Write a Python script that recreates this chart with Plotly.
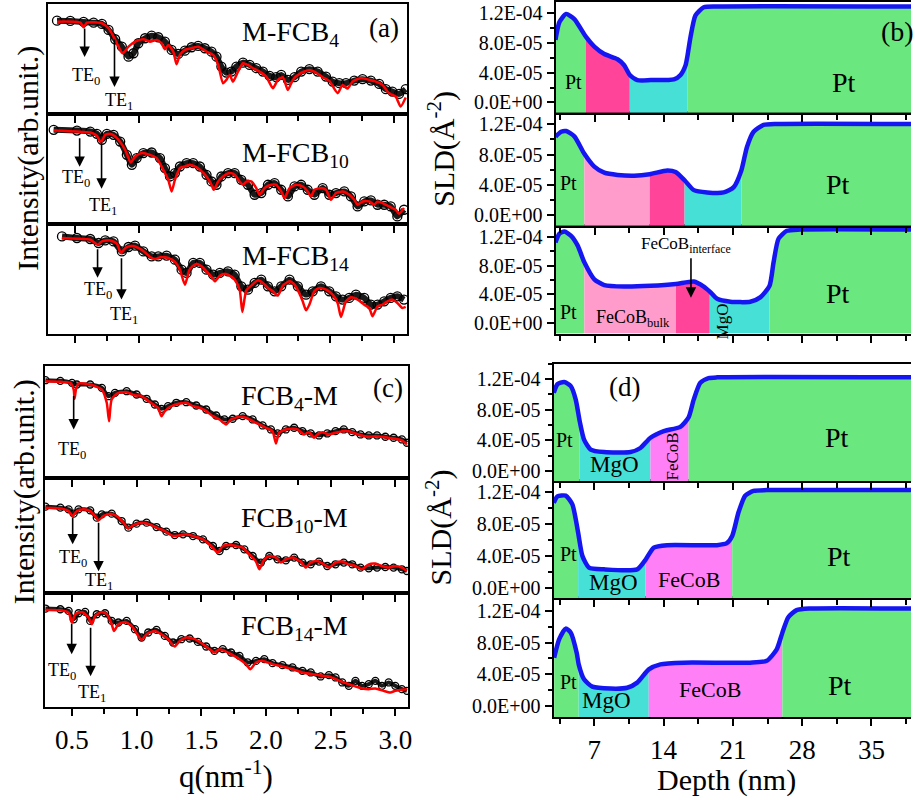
import plotly.graph_objects as go

FONT = "Liberation Serif, Times New Roman, serif"
W, H = 915, 800

# ---------------- reflectivity data (q in nm^-1, intensity in arb. log units) ----------------
# (a) M-FCB4
q_a1_fit = [0.362,0.544,0.570,0.596,0.713,0.765,0.804,0.843,0.874,0.921,0.972,1.037,1.089,1.141,1.180,1.206,1.232,1.271,1.297,1.323,1.362,1.414,1.466,1.531,1.583,1.622,1.660,1.686,1.712,1.738,1.777,1.816,1.855,1.894,1.946,1.998,2.050,2.089,2.128,2.167,2.206,2.258,2.335,2.387,2.439,2.491,2.556,2.595,2.634,2.673,2.738,2.803,2.855,2.907,2.946,2.971,3.010,3.049,3.088]
I_a1_fit = [92.3,91.3,86.7,91.3,90.7,85.7,77.3,67.3,60.7,67.3,72.3,74.7,72.3,74.0,70.7,64.7,69.0,62.3,49.7,59.0,64.0,65.7,67.3,62.3,59.0,49.0,30.7,34.0,39.0,32.3,42.3,50.7,49.0,45.7,42.3,37.3,25.7,34.0,36.7,24.0,34.0,40.0,44.0,41.3,36.7,33.0,20.7,29.0,25.3,32.3,36.0,34.0,32.3,29.0,22.3,19.7,17.3,7.3,16.3]
q_a1_exp = [0.362,0.466,0.570,0.648,0.713,0.765,0.817,0.869,0.921,0.960,0.998,1.050,1.102,1.154,1.206,1.258,1.310,1.362,1.414,1.466,1.518,1.570,1.609,1.647,1.686,1.725,1.764,1.816,1.868,1.920,1.972,2.024,2.076,2.115,2.167,2.219,2.271,2.335,2.400,2.465,2.517,2.569,2.621,2.686,2.751,2.816,2.881,2.933,2.984,3.036,3.088]
I_a1_exp = [93.3,93.0,92.0,91.3,90.0,84.0,74.7,67.3,57.3,60.7,70.7,75.7,78.3,76.7,72.3,64.0,60.0,63.3,66.7,68.0,65.7,62.3,57.3,47.3,41.3,42.3,47.3,51.3,49.0,45.7,42.3,38.0,36.7,39.0,34.0,36.7,42.3,44.7,42.3,37.3,32.3,30.7,30.7,33.3,34.7,33.3,30.0,24.7,22.3,20.0,24.7]

# (a) M-FCB10
q_a2_fit = [0.336,0.518,0.622,0.674,0.705,0.739,0.778,0.830,0.895,0.939,0.972,1.024,1.089,1.141,1.193,1.232,1.258,1.284,1.323,1.362,1.401,1.440,1.479,1.531,1.570,1.588,1.622,1.660,1.712,1.751,1.790,1.816,1.842,1.881,1.920,1.946,1.985,2.037,2.076,2.115,2.141,2.180,2.232,2.283,2.322,2.348,2.374,2.426,2.465,2.504,2.543,2.595,2.647,2.686,2.712,2.751,2.803,2.842,2.868,2.907,2.958,3.010,3.036,3.075]
I_a2_fit = [93.3,92.3,91.3,88.0,81.3,89.0,90.0,85.7,74.0,61.3,67.3,70.7,69.0,65.7,54.0,44.0,32.3,44.0,55.7,57.3,59.0,57.3,54.0,47.3,39.0,34.0,42.3,47.3,50.7,49.0,42.3,39.0,42.3,42.3,35.7,29.0,35.7,39.0,39.0,32.3,25.7,35.7,39.0,37.3,32.3,27.3,34.0,35.7,34.0,24.0,30.7,32.3,29.0,24.0,19.0,22.3,22.3,19.0,22.3,20.7,17.3,14.0,10.0,15.7]
q_a2_exp = [0.336,0.518,0.622,0.674,0.713,0.752,0.804,0.856,0.908,0.947,0.985,1.037,1.102,1.167,1.206,1.245,1.284,1.323,1.375,1.427,1.479,1.531,1.570,1.609,1.647,1.699,1.751,1.803,1.855,1.907,1.959,2.011,2.063,2.115,2.167,2.219,2.271,2.322,2.374,2.439,2.491,2.543,2.608,2.660,2.712,2.764,2.816,2.868,2.920,2.971,3.023,3.075]
I_a2_exp = [94.0,93.3,92.3,90.0,84.0,90.0,89.0,82.3,69.0,59.0,65.7,70.7,71.3,65.7,55.7,47.3,50.7,57.3,60.7,60.7,57.3,49.0,42.3,39.0,47.3,50.7,50.7,44.0,39.0,29.0,30.7,39.0,40.7,34.0,27.3,37.3,39.0,34.0,29.0,35.7,29.0,30.7,32.3,27.3,17.3,22.3,23.3,19.0,19.0,17.3,7.3,14.0]

# (a) M-FCB14
q_a3_fit = [0.401,0.518,0.622,0.682,0.713,0.778,0.830,0.861,0.895,0.947,0.998,1.050,1.089,1.128,1.180,1.232,1.284,1.323,1.362,1.401,1.453,1.492,1.531,1.570,1.596,1.635,1.673,1.712,1.751,1.790,1.811,1.842,1.881,1.933,1.972,2.011,2.050,2.089,2.128,2.180,2.219,2.258,2.283,2.309,2.335,2.374,2.413,2.465,2.517,2.556,2.582,2.621,2.660,2.712,2.764,2.803,2.829,2.868,2.907,2.946,2.984,3.023,3.062,3.088]
I_a3_fit = [95.7,95.0,94.0,89.0,92.3,93.3,90.0,80.7,85.7,88.0,85.7,81.3,76.7,74.7,76.7,75.7,71.7,64.0,49.0,64.7,70.0,67.3,62.3,56.7,52.3,58.0,60.0,58.0,54.0,44.0,21.7,43.3,48.0,53.3,50.7,45.7,42.3,38.0,48.0,52.3,49.0,40.0,32.3,23.3,29.0,42.3,45.7,44.0,39.0,30.7,16.7,32.3,36.3,34.0,29.0,25.7,17.3,27.3,29.0,32.3,34.0,30.7,25.7,26.7]
q_a3_exp = [0.401,0.518,0.622,0.687,0.739,0.804,0.869,0.921,0.972,1.037,1.102,1.154,1.219,1.284,1.336,1.375,1.427,1.479,1.531,1.583,1.635,1.699,1.751,1.803,1.855,1.907,1.959,2.011,2.063,2.115,2.180,2.245,2.309,2.361,2.426,2.491,2.543,2.595,2.647,2.699,2.764,2.816,2.868,2.920,2.971,3.023,3.075]
I_a3_exp = [97.3,95.7,94.7,90.7,93.3,92.3,82.3,86.7,88.0,82.3,77.3,77.3,78.0,74.0,64.0,60.7,70.7,70.7,64.0,59.0,60.7,62.3,59.0,47.3,44.0,50.7,54.0,47.3,42.3,47.3,54.0,47.3,39.0,42.3,47.3,42.3,37.3,34.0,35.7,39.0,35.7,29.0,29.0,32.3,35.7,37.3,34.0]

# (c) FCB4-M
q_c1_fit = [0.295,0.410,0.487,0.513,0.520,0.531,0.551,0.641,0.731,0.769,0.787,0.807,0.859,0.923,0.987,1.025,1.077,1.128,1.166,1.192,1.218,1.269,1.333,1.384,1.436,1.487,1.538,1.590,1.641,1.692,1.730,1.795,1.846,1.897,1.949,2.000,2.051,2.077,2.102,2.154,2.205,2.244,2.295,2.333,2.372,2.397,2.436,2.487,2.538,2.590,2.641,2.692,2.743,2.795,2.846,2.897,2.949,3.000,3.051,3.090]
I_c1_fit = [97.3,96.7,95.7,89.0,79.7,89.0,95.0,94.0,89.0,75.7,57.3,79.0,85.7,86.3,83.0,83.0,79.0,74.0,70.7,62.3,67.3,72.3,75.0,75.7,72.3,70.7,67.3,62.3,59.0,54.0,59.0,61.7,60.7,57.3,54.0,50.7,47.3,35.0,45.7,49.0,49.7,49.0,44.0,46.3,40.7,44.0,46.3,44.0,45.7,47.3,47.3,45.0,43.0,41.7,42.3,41.7,40.7,39.7,38.0,34.0]
q_c1_exp = [0.295,0.410,0.500,0.538,0.641,0.731,0.782,0.833,0.923,1.000,1.077,1.141,1.192,1.243,1.307,1.384,1.461,1.538,1.615,1.679,1.743,1.820,1.897,1.974,2.038,2.090,2.154,2.218,2.282,2.346,2.410,2.474,2.538,2.602,2.667,2.731,2.795,2.859,2.923,2.987,3.051,3.090]
I_c1_exp = [98.3,97.7,95.7,94.0,94.0,90.7,82.3,85.7,87.3,84.0,79.7,74.0,69.7,72.3,75.7,76.3,73.0,69.0,63.0,59.0,59.7,62.3,59.0,53.0,49.0,45.0,49.0,50.7,47.3,45.0,43.0,45.0,47.3,49.0,46.3,44.0,43.0,43.0,41.7,40.7,39.0,35.7]

# (c) FCB10-M
q_c2_fit = [0.295,0.410,0.474,0.505,0.538,0.589,0.641,0.679,0.705,0.743,0.795,0.846,0.897,0.936,0.987,1.051,1.102,1.154,1.218,1.282,1.333,1.384,1.436,1.513,1.577,1.628,1.666,1.718,1.769,1.820,1.872,1.923,1.949,1.987,2.026,2.077,2.115,2.154,2.205,2.269,2.307,2.346,2.397,2.449,2.487,2.538,2.590,2.641,2.692,2.743,2.795,2.846,2.897,2.949,3.000,3.051,3.090]
I_c2_fit = [85.7,85.0,82.3,77.3,82.3,84.0,82.3,77.3,73.0,77.3,79.7,77.3,70.7,65.0,69.0,70.7,69.0,65.7,62.3,57.3,58.0,59.0,57.3,54.0,47.3,40.7,47.3,48.3,47.3,45.7,39.0,31.7,24.0,34.0,37.3,35.7,30.7,34.0,35.7,31.7,25.7,30.7,32.3,29.0,25.7,30.7,31.7,29.0,27.3,24.0,29.0,29.7,27.3,25.7,27.3,25.7,22.3]
q_c2_exp = [0.295,0.410,0.474,0.513,0.551,0.641,0.692,0.731,0.807,0.884,0.936,1.000,1.077,1.154,1.230,1.295,1.359,1.436,1.513,1.590,1.641,1.692,1.769,1.833,1.897,1.961,2.026,2.090,2.154,2.218,2.282,2.346,2.410,2.474,2.538,2.602,2.667,2.731,2.795,2.859,2.923,2.987,3.051,3.090]
I_c2_exp = [86.7,85.7,84.0,79.7,84.0,83.0,75.7,79.0,79.7,72.3,65.7,69.7,70.7,66.3,61.7,58.3,59.0,57.3,54.0,47.3,42.3,47.3,48.3,44.0,37.3,30.7,37.3,34.0,33.0,35.7,30.7,29.0,31.7,27.3,29.0,30.7,29.0,25.7,25.0,25.7,26.3,25.7,24.0,22.3]

# (c) FCB14-M
q_c3_fit = [0.295,0.410,0.474,0.500,0.525,0.577,0.628,0.654,0.679,0.731,0.769,0.807,0.825,0.859,0.910,0.961,1.013,1.038,1.077,1.141,1.192,1.243,1.295,1.333,1.384,1.449,1.513,1.564,1.602,1.641,1.679,1.730,1.795,1.846,1.879,1.923,1.974,2.051,2.128,2.205,2.282,2.359,2.436,2.487,2.538,2.590,2.641,2.692,2.743,2.795,2.846,2.910,2.961,3.000,3.051,3.090]
I_c3_fit = [97.3,97.0,94.7,84.7,93.0,95.3,89.7,83.0,91.3,95.3,93.0,83.0,76.3,83.0,85.3,81.3,71.3,67.3,73.0,76.3,73.0,68.0,60.7,66.3,69.7,68.0,63.0,58.0,54.7,58.0,56.3,53.0,48.0,43.0,38.0,44.7,46.3,43.0,40.7,38.0,34.7,33.0,31.3,30.7,28.0,25.3,23.0,20.7,18.7,18.0,18.7,16.3,14.7,16.3,17.3,18.0]
q_c3_exp = [0.295,0.410,0.474,0.513,0.551,0.602,0.641,0.692,0.756,0.807,0.859,0.923,0.987,1.038,1.090,1.154,1.218,1.282,1.346,1.410,1.474,1.538,1.602,1.666,1.730,1.795,1.859,1.923,1.987,2.051,2.128,2.205,2.282,2.346,2.423,2.487,2.538,2.590,2.641,2.692,2.743,2.795,2.846,2.897,2.949,3.000,3.051,3.090]
I_c3_exp = [98.7,98.0,96.3,88.0,94.0,95.3,86.3,93.0,94.0,86.3,84.7,86.3,78.0,69.7,74.7,77.3,71.3,64.7,68.0,68.7,65.3,60.7,56.3,58.0,54.7,51.3,44.7,46.3,48.0,44.0,42.0,39.7,36.3,34.7,30.7,32.0,29.7,24.7,21.3,26.3,21.3,23.0,26.3,21.3,24.7,21.3,18.0,16.3]

# ---------------- SLD profiles (depth in nm, SLD in units of 1e-5 Å^-2) ----------------
SLD_UNIT = 1e-5
depth_b1 = [3.04,3.44,4.11,4.95,6.13,6.97,7.98,9.32,9.99,10.56,11.33,12.67,15.02,15.69,16.2,16.37,16.7,17.2,18.04,19.4,39.0]
sld_b1 = [8.4,10.8,11.9,11.2,8.8,7.5,6.5,5.8,5.0,3.7,3.0,3.0,3.1,3.7,5.0,6.1,8.8,11.7,12.8,12.9,12.9]
layers_b1 = [3.04, 6.13, 10.56, 16.37, 39.0]

depth_b2 = [3.05,3.61,4.11,4.95,5.96,6.97,7.98,9.32,11.0,12.57,14.35,15.19,16.1,17.04,18.38,20.06,21.07,21.84,22.41,23.08,24.09,25.43,39.0]
sld_b2 = [10.36,11.0,11.1,10.4,8.1,6.4,5.6,5.3,5.2,5.4,5.9,5.7,4.6,3.3,3.0,3.0,3.7,5.9,9.0,11.0,11.9,12.04,12.04]
layers_b2 = [3.05, 5.96, 12.57, 16.1, 21.84, 39.0]

depth_b3 = [3.04,3.44,3.95,4.62,5.29,5.96,6.97,7.98,9.99,12.67,15.22,17.04,18.04,18.65,19.39,20.73,22.74,23.75,24.69,25.1,25.6,26.44,27.78,39.0]
sld_b3 = [11.2,12.4,12.7,12.1,10.75,8.45,6.1,5.3,5.1,5.2,5.45,5.8,5.1,4.4,3.4,3.0,3.0,3.6,5.2,8.45,11.7,12.8,12.97,12.97]
layers_b3 = [3.04, 5.96, 15.22, 18.65, 24.69, 39.0]

depth_d1 = [2.9,3.27,3.95,4.62,5.12,5.52,5.96,6.63,7.98,10.66,11.66,12.67,14.02,15.69,16.53,17.04,17.71,18.55,19.39,39.0]
sld_d1 = [10.2,11.3,11.6,11.05,9.3,6.5,4.1,2.8,2.47,2.47,3.0,4.33,5.2,5.76,7.0,9.3,11.5,12.1,12.2,12.2]
layers_d1 = [2.9, 5.52, 12.67, 16.53, 39.0]

depth_d2 = [2.9,3.27,4.11,4.78,5.36,5.79,6.46,7.98,11.33,12.17,13.01,14.35,19.39,20.39,20.93,21.57,22.24,23.08,24.42,39.0]
sld_d2 = [10.7,11.5,11.6,10.5,6.95,4.0,2.53,2.3,2.3,3.5,5.05,5.35,5.35,5.6,6.5,9.5,11.6,12.2,12.3,12.3]
layers_d2 = [2.9, 5.36, 12.17, 20.93, 39.0]

depth_d3 = [2.94,3.44,4.11,4.62,5.22,5.42,5.96,6.8,8.64,10.32,11.33,12.5,13.68,16.03,22.74,24.42,25.43,26.0,26.6,27.44,28.78,39.0]
sld_d3 = [6.1,8.4,9.77,9.26,6.7,5.26,3.37,2.44,2.2,2.3,2.95,4.63,5.26,5.47,5.47,5.7,7.15,9.26,11.2,12.1,12.3,12.3]
layers_d3 = [2.94, 5.42, 12.5, 26.0, 39.0]

sld_tickvals = [0, 4e-5, 8e-5, 1.2e-4]
sld_ticktext = ["0.0E+00", "4.0E-05", "8.0E-05", "1.2E-04"]

GREEN = "#6AE77E"
HOTPINK = "#FF4499"
LIGHTPINK = "#FF9CCB"
CYAN = "#47E0D6"
MAGENTA = "#FF80F6"
BLUE = "#1616F2"

# ---------------- layout geometry (pixels) ----------------
# bottom panels first so that upper-panel ticks are drawn over lower panels
panels = [
    ("d3", "sld", 556, 915, 599, 718, (-1.4e-5, 13.6e-5), True),
    ("d2", "sld", 556, 915, 482, 599, (-1.35e-5, 13.4e-5), False),
    ("d1", "sld", 556, 915, 364, 482, (-1.35e-5, 14.0e-5), False),
    ("b3", "sld", 558, 915, 226, 334, (-1.4e-5, 13.5e-5), False),
    ("b2", "sld", 558, 915, 113, 226, (-1.4e-5, 13.5e-5), False),
    ("b1", "sld", 558, 915, 2, 113, (-1.4e-5, 13.5e-5), False),
    ("c3", "refl", 45, 410, 594, 708, (0, 114), True),
    ("c2", "refl", 45, 410, 479, 594, (0, 115), False),
    ("c1", "refl", 45, 410, 366, 479, (0, 113), False),
    ("a3", "refl", 48, 409, 224, 334, (0, 110), False),
    ("a2", "refl", 48, 409, 114, 224, (0, 110), False),
    ("a1", "refl", 48, 409, 4, 114, (0, 110), False),
]

refl_data = {
    "a1": (q_a1_exp, I_a1_exp, q_a1_fit, I_a1_fit),
    "a2": (q_a2_exp, I_a2_exp, q_a2_fit, I_a2_fit),
    "a3": (q_a3_exp, I_a3_exp, q_a3_fit, I_a3_fit),
    "c1": (q_c1_exp, I_c1_exp, q_c1_fit, I_c1_fit),
    "c2": (q_c2_exp, I_c2_exp, q_c2_fit, I_c2_fit),
    "c3": (q_c3_exp, I_c3_exp, q_c3_fit, I_c3_fit),
}
sld_data = {
    "b1": (depth_b1, sld_b1, layers_b1, [GREEN, HOTPINK, CYAN, GREEN]),
    "b2": (depth_b2, sld_b2, layers_b2, [GREEN, LIGHTPINK, HOTPINK, CYAN, GREEN]),
    "b3": (depth_b3, sld_b3, layers_b3, [GREEN, LIGHTPINK, HOTPINK, CYAN, GREEN]),
    "d1": (depth_d1, sld_d1, layers_d1, [GREEN, CYAN, MAGENTA, GREEN]),
    "d2": (depth_d2, sld_d2, layers_d2, [GREEN, CYAN, MAGENTA, GREEN]),
    "d3": (depth_d3, sld_d3, layers_d3, [GREEN, CYAN, MAGENTA, GREEN]),
}

fig = go.Figure()
layout = dict(width=W, height=H, margin=dict(l=0, r=0, t=0, b=0),
              paper_bgcolor="white", plot_bgcolor="white", showlegend=False,
              font=dict(family=FONT, color="black"))

for i, (pid, kind, x0, x1, y0, y1, yr, bottom) in enumerate(panels, start=1):
    xname = "xaxis" if i == 1 else f"xaxis{i}"
    yname = "yaxis" if i == 1 else f"yaxis{i}"
    xref = "x" if i == 1 else f"x{i}"
    yref = "y" if i == 1 else f"y{i}"
    xdom = [x0 / W, x1 / W]
    ydom = [1 - y1 / H, 1 - y0 / H]
    if kind == "refl":
        xa = dict(domain=xdom, anchor=yref, range=[0.29, 3.10], showgrid=False, zeroline=False,
                  showline=True, linecolor="black", linewidth=2, mirror=True,
                  ticks="outside", ticklen=7, tickwidth=1.5, tickcolor="black",
                  tick0=0, dtick=0.5, tickformat=".1f",
                  minor=dict(ticks="outside", ticklen=5, tickwidth=1.5, tickcolor="black", dtick=0.25, showgrid=False),
                  showticklabels=bottom, tickfont=dict(size=27, family=FONT))
        ya = dict(domain=ydom, anchor=xref, range=list(yr), showgrid=False, zeroline=False,
                  showline=True, linecolor="black", linewidth=2, mirror=True,
                  ticks="", showticklabels=False)
        qe, Ie, qf, If = refl_data[pid]
        band = 6 if pid.startswith("a") else 4
        msize = 9 if pid.startswith("a") else 7
        fig.add_trace(go.Scatter(x=qe, y=Ie, mode="lines+markers", xaxis=xref, yaxis=yref,
                                 line=dict(color="#1a1a1a", width=band, shape="spline", smoothing=0.6),
                                 marker=dict(symbol="circle-open", size=msize, color="black", line=dict(width=1.3)),
                                 hoverinfo="skip"))
        fig.add_trace(go.Scatter(x=qf, y=If, mode="lines", xaxis=xref, yaxis=yref,
                                 line=dict(color="#FF0000", width=2.5, shape="spline", smoothing=0.6),
                                 hoverinfo="skip"))
    else:
        xr = [3.05, 39.0] if pid.startswith("b") else [2.88, 39.0]
        xa = dict(domain=xdom, anchor=yref, range=xr, showgrid=False, zeroline=False,
                  showline=True, linecolor="black", linewidth=2, mirror=True,
                  ticks="outside", ticklen=7, tickwidth=1.5, tickcolor="black",
                  tick0=0, dtick=7,
                  minor=dict(ticks="outside", ticklen=5, tickwidth=1.5, tickcolor="black", dtick=3.5, showgrid=False),
                  showticklabels=bottom, tickfont=dict(size=27, family=FONT))
        ya = dict(domain=ydom, anchor=xref, range=list(yr), showgrid=False, zeroline=False,
                  showline=True, linecolor="black", linewidth=2, mirror=False,
                  ticks="outside", ticklen=7, tickwidth=1.5, tickcolor="black",
                  tickvals=sld_tickvals, ticktext=sld_ticktext,
                  minor=dict(ticks="outside", ticklen=4, tickwidth=1.5, tickcolor="black",
                             tick0=0, dtick=2e-5, showgrid=False),
                  tickfont=dict(size=20, family=FONT))
        depth, sld, layers, cols = sld_data[pid]
        ymin = yr[0]
        for (b0, b1), col in zip(zip(layers[:-1], layers[1:]), cols):
            xs = [d for d in depth if b0 <= d <= b1]
            ys = [s * SLD_UNIT for d, s in zip(depth, sld) if b0 <= d <= b1]
            fig.add_trace(go.Scatter(x=[xs[0], xs[-1]], y=[ymin, ymin], mode="lines",
                                     xaxis=xref, yaxis=yref, line=dict(width=0, color=col),
                                     hoverinfo="skip"))
            fig.add_trace(go.Scatter(x=xs, y=ys, mode="lines", xaxis=xref, yaxis=yref,
                                     line=dict(width=0, color=col, shape="spline", smoothing=0.6),
                                     fill="tonexty", fillcolor=col, hoverinfo="skip"))
        fig.add_trace(go.Scatter(x=depth, y=[s * SLD_UNIT for s in sld], mode="lines",
                                 xaxis=xref, yaxis=yref,
                                 line=dict(color=BLUE, width=4.5, shape="spline", smoothing=0.6),
                                 hoverinfo="skip"))
    layout[xname] = xa
    layout[yname] = ya

annotations = []


def ann(text, x, y, size, **kw):
    d = dict(text=text, x=x / W, y=1 - y / H, xref="paper", yref="paper", showarrow=False,
             font=dict(size=size, color="black", family=FONT), xanchor="center", yanchor="middle")
    d.update(kw)
    annotations.append(d)


def arrow(x, y_tail, y_head):
    annotations.append(dict(text="", x=x / W, y=1 - y_head / H, xref="paper", yref="paper",
                            ax=0, ay=-(y_head - y_tail), axref="pixel", ayref="pixel",
                            showarrow=True, arrowhead=2, arrowsize=1.3, arrowwidth=1.6,
                            arrowcolor="black", standoff=0, startstandoff=0))


# sample names
ann("M-FCB<sub>4</sub>", 241, 34, 28, xanchor="left")
ann("M-FCB<sub>10</sub>", 241, 155, 28, xanchor="left")
ann("M-FCB<sub>14</sub>", 241, 258, 28, xanchor="left")
ann("FCB<sub>4</sub>-M", 240, 398, 28, xanchor="left")
ann("FCB<sub>10</sub>-M", 240, 520, 28, xanchor="left")
ann("FCB<sub>14</sub>-M", 240, 628, 28, xanchor="left")

# panel letters
ann("(a)", 386, 28, 27)
ann("(b)", 901, 32, 28)
ann("(c)", 390, 388, 27)
ann("(d)", 627, 387, 27)

# TE markers
arrow(85, 27, 57); ann("TE<sub>0</sub>", 86, 77, 18)
arrow(115, 38, 87); ann("TE<sub>1</sub>", 120, 102, 18)
arrow(80, 137, 167); ann("TE<sub>0</sub>", 76, 179, 18)
arrow(102, 141, 189); ann("TE<sub>1</sub>", 103, 207, 18)
arrow(98, 248, 278); ann("TE<sub>0</sub>", 98, 291, 18)
arrow(122, 257, 300); ann("TE<sub>1</sub>", 125, 316, 18)
arrow(74, 395, 430); ann("TE<sub>0</sub>", 72, 451, 18)
arrow(73, 517, 545); ann("TE<sub>0</sub>", 73, 559, 18)
arrow(99, 522, 572); ann("TE<sub>1</sub>", 99, 582, 18)
arrow(72, 623, 655); ann("TE<sub>0</sub>", 62, 672, 18)
arrow(91, 627, 677); ann("TE<sub>1</sub>", 92, 694, 18)

# layer labels (b)
ann("Pt", 576, 82, 20); ann("Pt", 848, 83, 28)
ann("Pt", 571, 183, 20); ann("Pt", 842, 185, 28)
ann("Pt", 571, 312, 20); ann("Pt", 842, 294, 28)
ann("FeCoB<sub>bulk</sub>", 597, 319, 18, xanchor="left")
ann("FeCoB<sub>interface</sub>", 642, 245, 17, xanchor="left")
arrow(694, 257, 298)
ann("MgO", 726, 322, 17, textangle=-90)
# layer labels (d)
ann("Pt", 567, 441, 20); ann("MgO", 617, 465, 23); ann("FeCoB", 675, 457, 17, textangle=-90); ann("Pt", 841, 438, 28)
ann("Pt", 571, 555, 20); ann("MgO", 616, 583, 23); ann("FeCoB", 692, 580, 22); ann("Pt", 843, 557, 28)
ann("Pt", 571, 683, 20); ann("MgO", 609, 701, 23); ann("FeCoB", 713, 690, 22); ann("Pt", 844, 686, 28)

# axis titles
ann("Intensity(arb.unit.)", 28, 158, 30, textangle=-90)
ann("Intensity(arb.unit.)", 24, 492, 30, textangle=-90)
ann("SLD(Å<sup>-2</sup>)", 444, 149, 30, textangle=-90)
ann("SLD(Å<sup>-2</sup>)", 441, 528, 30, textangle=-90)
ann("q(nm<sup>-1</sup>)", 227, 775, 31)
ann("Depth (nm)", 730, 781, 30)

layout["annotations"] = annotations
fig.update_layout(**layout)
fig.write_html("out.html")
